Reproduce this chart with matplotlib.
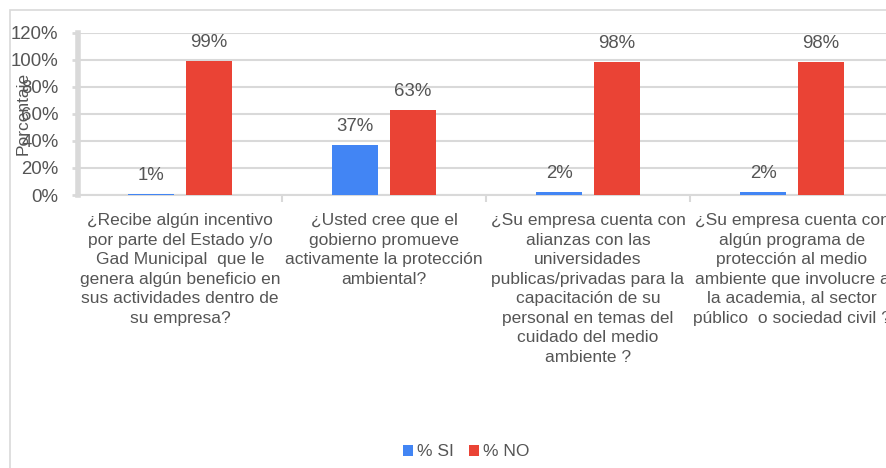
import matplotlib
matplotlib.use('Agg')
import matplotlib.pyplot as plt
from matplotlib.patches import Rectangle
import numpy as np

# datos
preguntas = [
    "¿Recibe algún incentivo\npor parte del Estado y/o\nGad Municipal  que le\ngenera algún beneficio en\nsus actividades dentro de\nsu empresa?",
    "¿Usted cree que el\ngobierno promueve\nactivamente la protección\nambiental?",
    "¿Su empresa cuenta con\nalianzas con las\nuniversidades\npublicas/privadas para la\ncapacitación de su\npersonal en temas del\ncuidado del medio\nambiente ?",
    "¿Su empresa cuenta con\nalgún programa de\nprotección al medio\nambiente que involucre a\nla academia, al sector\npúblico  o sociedad civil ?",
]
pct_si = [0.01, 0.37, 0.02, 0.02]
pct_no = [0.99, 0.63, 0.98, 0.98]
series_names = ['% SI', '% NO']
y_ticks = [0, 0.2, 0.4, 0.6, 0.8, 1.0, 1.2]

color_si = '#4285F4'
color_no = '#EA4335'
txt_color = '#555555'
grid_color = '#d9d9d9'

plt.rcParams['font.family'] = ['Liberation Sans', 'DejaVu Sans']
fs = 12.5      # etiquetas del eje x, leyenda
fs_num = 13.4  # ticks y valores

fig = plt.figure(figsize=(8.87, 4.68), dpi=100)
ax = fig.add_axes([78 / 887, 1 - 195 / 468, 816 / 887, 162.5 / 468])

# borde exterior del grafico
fig.patches.append(Rectangle((10 / 887, -0.2), 1.5, 1.2 - 10 / 468,
                             transform=fig.transFigure, fill=False,
                             edgecolor=grid_color, linewidth=1.2))

x = np.arange(len(preguntas))
w = 0.225
off = 0.142
b1 = ax.bar(x - off, pct_si, w, color=color_si, label=series_names[0], zorder=3)
b2 = ax.bar(x + off, pct_no, w, color=color_no, label=series_names[1], zorder=3)

for bars, vals in ((b1, pct_si), (b2, pct_no)):
    for rect, v in zip(bars, vals):
        ax.annotate(f'{v * 100:.0f}%', (rect.get_x() + rect.get_width() / 2, v),
                    xytext=(0, 13.4), textcoords='offset points',
                    ha='center', va='center', fontsize=fs_num, color=txt_color)

ax.set_xlim(-0.5, 3.5)
ax.set_ylim(0, 1.2)
ax.set_yticks(y_ticks)
ax.set_yticklabels([f'{t * 100:.0f}%' for t in y_ticks], fontsize=fs_num, color=txt_color)
ax.set_xticks(x)
ax.set_xticklabels(preguntas, fontsize=fs, color=txt_color, linespacing=1.38)
ax.set_xticks([0.5, 1.5, 2.5], minor=True)
ax.tick_params(axis='x', which='major', length=0, pad=13)
ax.tick_params(axis='x', which='minor', length=5, width=1.5, color=grid_color)
ax.tick_params(axis='y', length=4, width=2, color=grid_color, pad=10)

ax.grid(axis='y', color=grid_color, linewidth=1.5, zorder=0)
for s in ['top', 'right']:
    ax.spines[s].set_visible(False)
ax.spines['left'].set_color(grid_color)
ax.spines['left'].set_linewidth(4)
ax.spines['bottom'].set_color(grid_color)
ax.spines['bottom'].set_linewidth(1.5)

ax.set_ylabel('Porcentaje', fontsize=fs, color=txt_color)
ax.yaxis.set_label_coords(-0.058, 0.5)

fig.legend(handles=[b1, b2], loc='center', bbox_to_anchor=(466 / 887, 1 - 452 / 468),
           ncol=2, frameon=False, fontsize=fs, labelcolor=txt_color,
           handlelength=0.6, handleheight=0.6, handletextpad=0.2, columnspacing=0.9)

plt.savefig('out.png', dpi=100)
plt.close()
